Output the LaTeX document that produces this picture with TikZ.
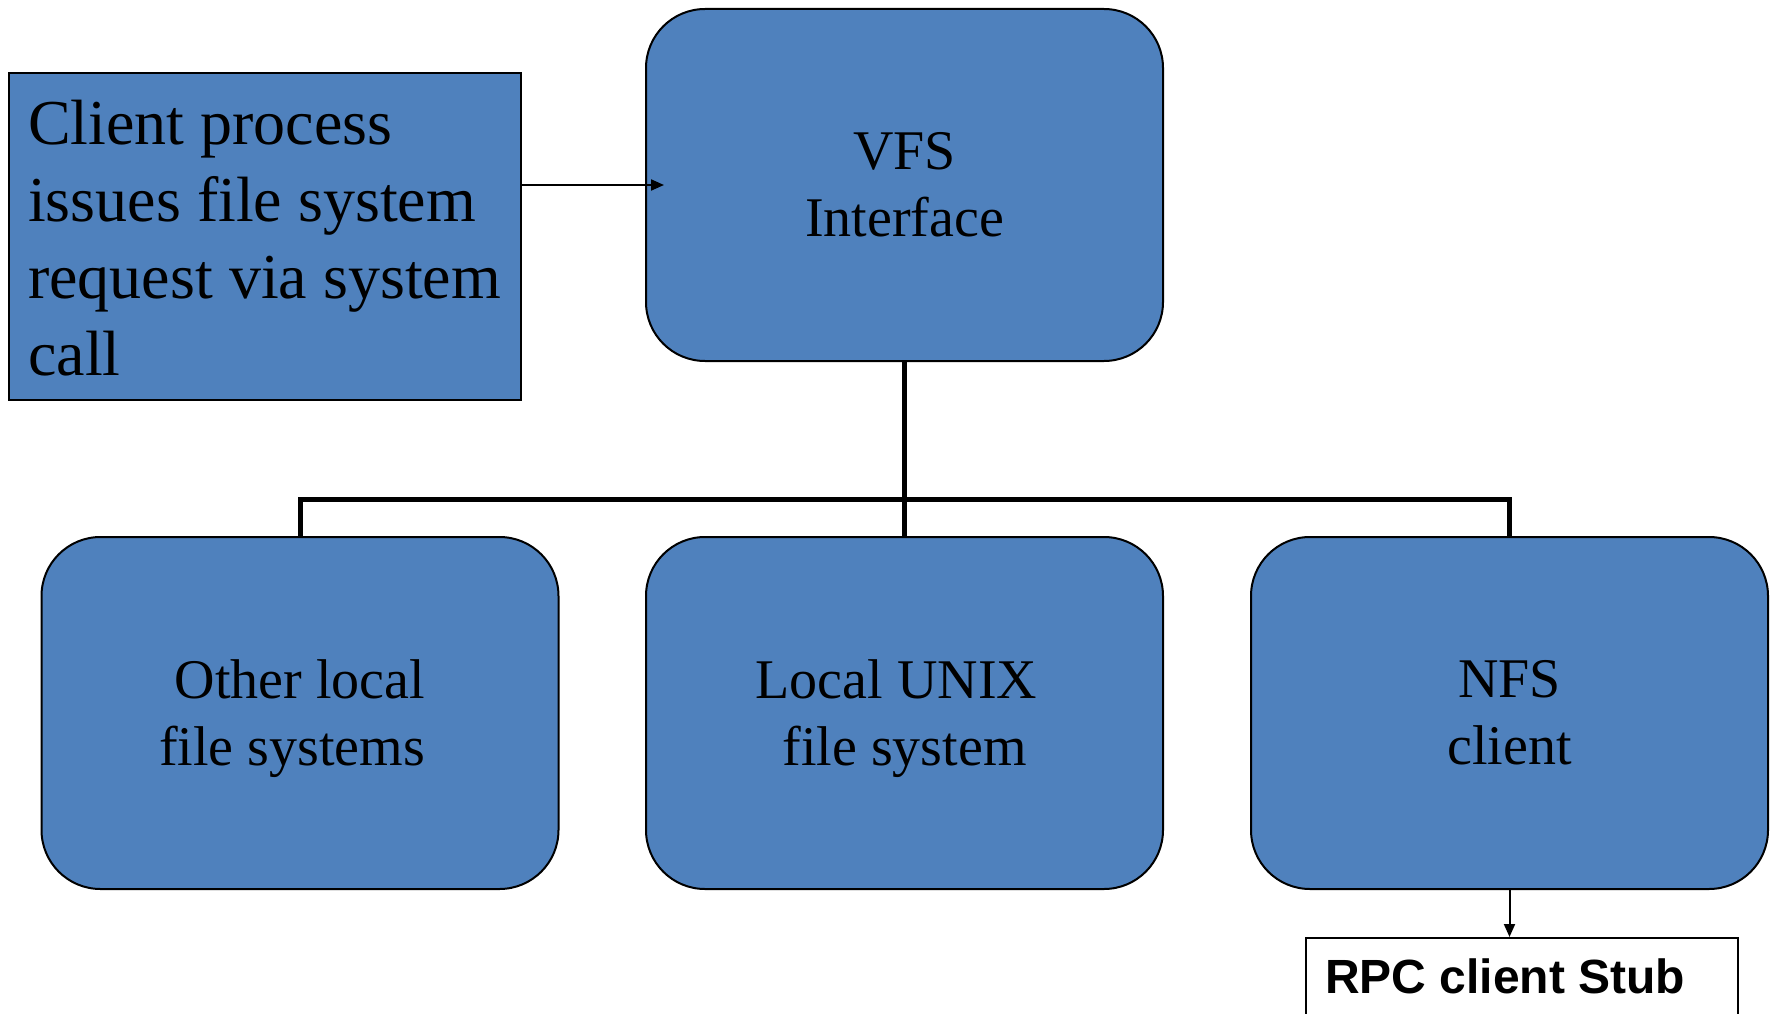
\documentclass[tikz,border=0pt]{standalone}
\usepackage{fontspec}
\setmainfont{Liberation Serif}
\newfontfamily\arialfont{Liberation Sans}
\usetikzlibrary{arrows.meta}
\definecolor{boxblue}{HTML}{4F81BD}
\newcommand{\nodepth}[1]{\raisebox{0pt}[\height][0pt]{#1}}

\begin{document}
\begin{tikzpicture}[x=1pt,y=-1pt,
  blk/.style={draw=black, line width=2pt, fill=boxblue, inner sep=0pt},
  rbox/.style={blk, rounded corners=59pt, minimum width=517pt, minimum height=352pt,
    align=center, font=\fontsize{56}{67}\selectfont},
  bus/.style={line width=5pt, line join=miter},
  thinarrow/.style={line width=2pt, -{Triangle[length=13pt,width=11pt]}}
]
\useasboundingbox (0,0) rectangle (1773,1014);

% client request box
\node[blk, minimum width=512pt, minimum height=327pt] (client) at (265,236.5) {};
\node[anchor=base west, align=left, inner sep=0pt,
      font=\fontsize{64}{77}\selectfont] (clienttext) at (28,375)
  {Client process\\issues file system\\request via system\\call};

% layers
\node[rbox] (vfs) at (904.5,185) {VFS\\Interface};
\node[rbox] (other) at (300,713) {Other local\\\nodepth{file systems}\hspace*{16pt}};
\node[rbox] (local) at (904.5,713) {Local UNIX\hspace*{16pt}\\\nodepth{file system}};
\node[rbox] (nfs) at (1509.5,713) {NFS\\client};

% RPC stub (runs past the lower edge)
\node[draw=black, line width=2pt, fill=white, minimum width=432pt, minimum height=160pt,
      anchor=north west, inner sep=0pt] (rpc) at (1305,937) {};
\node[anchor=base west, inner sep=0pt, font=\arialfont\bfseries\fontsize{48}{58}\selectfont]
  (rpctext) at (1325,993) {RPC client Stub};

% connectors
\draw[thinarrow] (vfs.west -| client.east) -- ([xshift=19pt]vfs.west);
\draw[bus] (vfs.south) -- (local.north);
\draw[bus] (other.north) -- ++(0,-37) -| (nfs.north);
\draw[thinarrow] (nfs.south) -- (nfs.south |- rpc.north);
\end{tikzpicture}
\end{document}
